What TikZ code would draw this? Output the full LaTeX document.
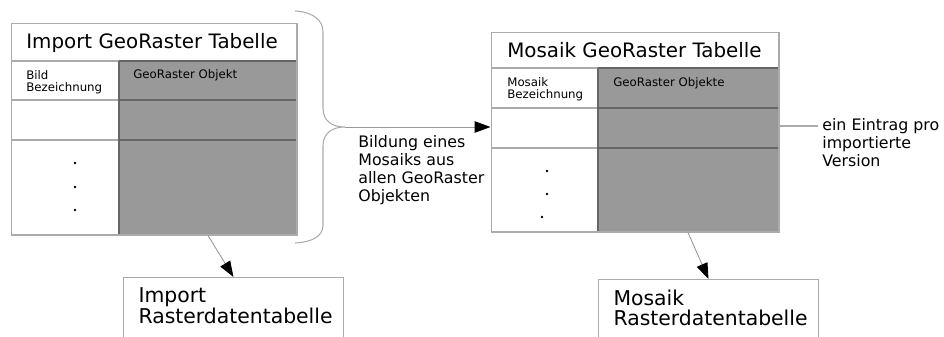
\documentclass[tikz,border=0pt]{standalone}
\usepackage{fontspec}
\setmainfont{DejaVu Sans}
\usetikzlibrary{arrows.meta}

\begin{document}
\begin{tikzpicture}[x=0.02cm, y=-0.02cm]
			\tikzset{rahmen/.style={draw=black!33, line width=0.6pt}, trenner/.style={draw=black!60, line width=0.6pt}, zelle/.style={fill=black!40},
				pfeil/.style={draw=black!40, line width=0.5pt, -{Triangle[length=9pt, width=6.5pt, black]}},
				titel/.style={font=\fontsize{11.3}{13}\selectfont, inner sep=0, anchor=base west},
				klein/.style={font=\fontsize{6.7}{7}\selectfont, inner sep=0, anchor=north west, align=left},
				notiz/.style={font=\fontsize{9}{10.3}\selectfont, inner sep=0, anchor=north west, align=left},
				kasten/.style={rahmen, anchor=north west, align=left, text width=3.8cm, inner xsep=0.3cm, inner ysep=0.2cm, text depth=1cm, font=\fontsize{11.6}{11.9}\selectfont}};

			\clip (0,0) rectangle (944,336);

			\fill[zelle] (119,  61) rectangle (297, 235);
			\fill[zelle] (598,  68) rectangle (779, 232);

			\foreach \y in {61, 100, 140} {
				\draw[rahmen]  ( 11, \y) -- (119, \y);
				\draw[trenner] (119, \y) -- (297, \y);
			}
			\draw[trenner] (119,  61) -- (119, 235);

			\foreach \y in {68, 108, 148} {
				\draw[rahmen]  (491, \y) -- (598, \y);
				\draw[trenner] (598, \y) -- (779, \y);
			}
			\draw[trenner] (598,  68) -- (598, 232);

			\node[rahmen, inner sep=0, minimum width=5.72cm, minimum height=4.24cm] (imptab) at (154, 129) {};
			\node[rahmen, inner sep=0, minimum width=5.76cm, minimum height=4.00cm] (mostab) at (635, 132) {};

			\node[titel] (imptitel) at ( 26,  48) {Import GeoRaster Tabelle};
			\node[klein] (impname)  at ( 26,  70) {Bild\\Bezeichnung};
			\node[klein, anchor=base west] (impobj) at (133,  78) {GeoRaster Objekt};

			\node[titel] (mostitel) at (507,  57) {Mosaik GeoRaster Tabelle};
			\node[klein] (mosname)  at (507,  77) {Mosaik\\Bezeichnung};
			\node[klein, anchor=base west] (mosobj) at (613,  86) {GeoRaster Objekte};

			\foreach \p in {(75,163), (75,187), (75,210), (547,171), (547,194), (542,217)}
				\fill \p circle[radius=1.3];

			\node[kasten] (impras) at (123, 277) {Import\\Rasterdatentabelle};
			\node[kasten] (mosras) at (598, 279) {Mosaik\\Rasterdatentabelle};

			\node[notiz] (bildung) at (358, 135) {Bildung eines\\Mosaiks aus\\allen GeoRaster\\Objekten};
			\node[notiz] (eintrag) at (822, 118) {ein Eintrag pro\\importierte\\Version};

			\coordinate (spitze) at (345, 127);
			\draw[rahmen] (295, 11) .. controls (313, 12) and (323, 20) .. (323, 32) -- (323, 108)
				.. controls (323, 121) and (332, 127) .. (spitze)
				.. controls (332, 127) and (323, 133) .. (323, 146) -- (323, 225)
				.. controls (323, 236) and (313, 242) .. (295, 243);

			\draw[pfeil] (spitze) -- (spitze -| mostab.west);
			\draw[pfeil] ([xshift=1.08cm]imptab.south) -- (impras.north);
			\draw[pfeil] ([xshift=1.06cm]mostab.south) -- (mosras.north);

			\coordinate (eintragfuss) at ([shift={(-4,8)}]eintrag.north west);
			\draw[rahmen] (eintragfuss) -- (eintragfuss -| mostab.east);

		\end{tikzpicture}
\end{document}
